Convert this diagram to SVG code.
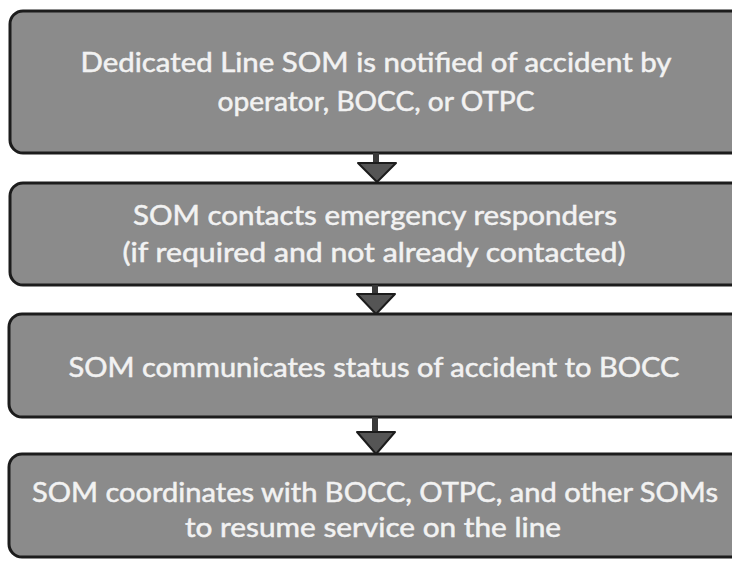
<svg xmlns="http://www.w3.org/2000/svg" width="732" height="563" viewBox="0 0 732 563">
  <style>
    .box { fill: #8b8b8b; stroke: #1c1c1c; stroke-width: 3; }
    .label { font-family: Lato, "Open Sans", "Liberation Sans", sans-serif; font-size: 26px; fill: #f2f2f2; stroke: #f2f2f2; stroke-width: 0.5; text-anchor: middle; }
    .stem { fill: #3a3a3a; }
    .head { fill: #555555; stroke: #1c1c1c; stroke-width: 2; stroke-linejoin: round; }
  </style>
  <rect width="732" height="563" fill="#ffffff"/>

  <!-- process steps -->
  <g id="step-notified">
    <rect class="box" x="10" y="11" width="760" height="142" rx="13"/>
    <text class="label" x="376" y="72" textLength="591" lengthAdjust="spacingAndGlyphs">Dedicated Line SOM is notified of accident by</text>
    <text class="label" x="376" y="111" textLength="317" lengthAdjust="spacingAndGlyphs">operator, BOCC, or OTPC</text>
  </g>

  <g id="step-responders">
    <rect class="box" x="10" y="183" width="760" height="102" rx="13"/>
    <text class="label" x="375" y="225" textLength="484" lengthAdjust="spacingAndGlyphs">SOM contacts emergency responders</text>
    <text class="label" x="374" y="262" textLength="503" lengthAdjust="spacingAndGlyphs">(if required and not already contacted)</text>
  </g>

  <g id="step-status">
    <rect class="box" x="9" y="314" width="760" height="103" rx="13"/>
    <text class="label" x="374" y="377" textLength="611" lengthAdjust="spacingAndGlyphs">SOM communicates status of accident to BOCC</text>
  </g>

  <g id="step-coordinate">
    <rect class="box" x="9" y="454" width="760" height="103" rx="13"/>
    <text class="label" x="375" y="502" textLength="686" lengthAdjust="spacingAndGlyphs">SOM coordinates with BOCC, OTPC, and other SOMs</text>
    <text class="label" x="373" y="537" textLength="376" lengthAdjust="spacingAndGlyphs">to resume service on the line</text>
  </g>

  <!-- connectors -->
  <g id="connectors">
    <rect class="stem" x="373" y="153" width="6" height="10"/>
    <polygon class="head" points="358,163 396,163 377,182"/>

    <rect class="stem" x="372" y="285" width="6" height="9"/>
    <polygon class="head" points="357,294 395,294 376,314"/>

    <rect class="stem" x="372" y="417" width="6" height="15"/>
    <polygon class="head" points="357,432 395,432 376,454"/>
  </g>
</svg>
